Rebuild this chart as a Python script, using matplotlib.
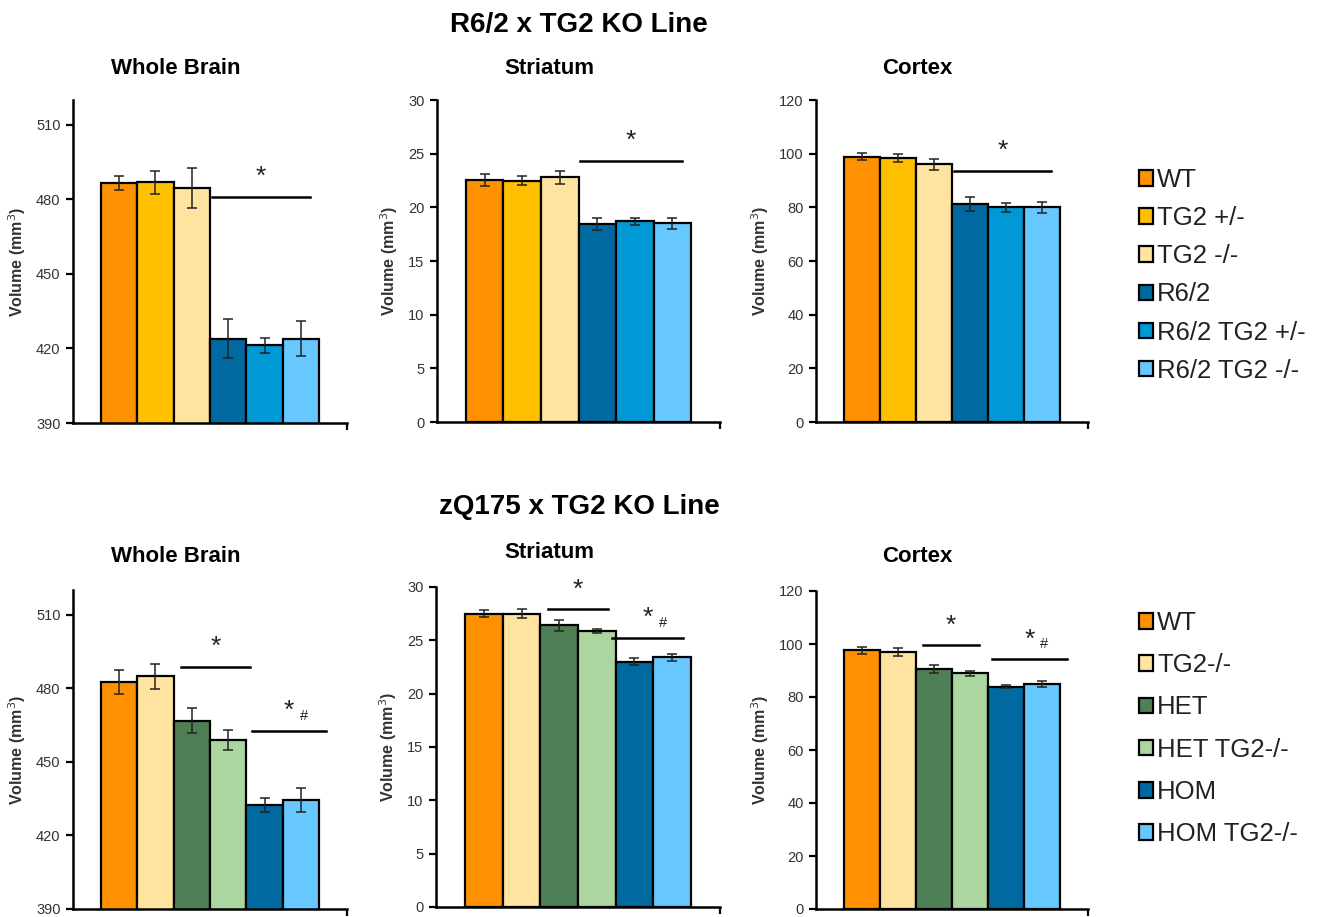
import matplotlib
matplotlib.use('Agg')
import matplotlib.pyplot as plt
from matplotlib.patches import Patch

plt.rcParams['font.family'] = ['Liberation Sans', 'DejaVu Sans']

# --- data -------------------------------------------------------------
r62_groups = ['WT', 'TG2 +/-', 'TG2 -/-', 'R6/2', 'R6/2 TG2 +/-', 'R6/2 TG2 -/-']
r62_colors = ['#FF9100', '#FFC000', '#FFE3A0', '#006AA0', '#0099D6', '#66C8FF']
r62_wb = [486.6, 486.8, 484.6, 424.0, 421.3, 424.0]
r62_wb_err = [3.0, 4.5, 8.0, 8.0, 3.0, 7.0]
r62_str = [22.55, 22.5, 22.8, 18.45, 18.7, 18.5]
r62_str_err = [0.55, 0.45, 0.6, 0.6, 0.35, 0.55]
r62_ctx = [98.9, 98.3, 96.0, 81.2, 80.0, 80.0]
r62_ctx_err = [1.3, 1.5, 2.0, 2.5, 1.8, 2.0]

zq_groups = ['WT', 'TG2-/-', 'HET', 'HET TG2-/-', 'HOM', 'HOM TG2-/-']
zq_colors = ['#FF9100', '#FFE3A0', '#4E7F55', '#ACD6A0', '#006AA0', '#66C8FF']
zq_wb = [482.5, 484.8, 466.8, 458.9, 432.4, 434.4]
zq_wb_err = [5.0, 5.0, 5.0, 4.0, 2.7, 5.0]
zq_str = [27.5, 27.5, 26.4, 25.9, 23.0, 23.4]
zq_str_err = [0.3, 0.4, 0.55, 0.2, 0.3, 0.3]
zq_ctx = [97.6, 97.1, 90.5, 88.9, 83.9, 84.9]
zq_ctx_err = [1.2, 1.5, 1.5, 0.8, 0.5, 1.3]

# significance bars: (y, x0, x1, label, subscript)
r62_sig_wb = [(481, 2.55, 5.25, '*', '')]
r62_sig_str = [(24.3, 2.55, 5.25, '*', '')]
r62_sig_ctx = [(93.6, 2.55, 5.25, '*', '')]
zq_sig_wb = [(488.6, 1.7, 3.6, '*', ''), (462.5, 3.65, 5.7, '*', '#')]
zq_sig_str = [(27.9, 1.7, 3.3, '*', ''), (25.25, 3.4, 5.3, '*', '#')]
zq_sig_ctx = [(99.5, 1.7, 3.25, '*', ''), (94.2, 3.6, 5.7, '*', '#')]

W, H = 1335, 917
fig = plt.figure(figsize=(W / 100, H / 100), dpi=100)


def px_axes(x0, x1, y_top, y_bot):
    return fig.add_axes([x0 / W, 1 - y_bot / H, (x1 - x0) / W, (y_bot - y_top) / H])


def panel(ax, vals, errs, colors, ylim, yticks, sigs):
    x = range(len(vals))
    ax.bar(x, vals, width=1.0, color=colors, edgecolor='black', linewidth=1.6,
           bottom=0, zorder=2)
    ax.errorbar(x, vals, yerr=errs, fmt='none', ecolor='#222222', elinewidth=1.1,
                capsize=3.5, capthick=1.1, zorder=3)
    ax.set_ylim(*ylim)
    ax.set_xlim(-1.27, 6.27)
    ax.set_yticks(yticks)
    ax.set_xticks([6.27])
    ax.set_xticklabels([])
    ax.tick_params(axis='y', direction='out', length=5, width=1.6, labelsize=10.5,
                   labelcolor='#333333', pad=4)
    ax.tick_params(axis='x', direction='out', length=5, width=1.6)
    for s in ['top', 'right']:
        ax.spines[s].set_visible(False)
    for s in ['left', 'bottom']:
        ax.spines[s].set_linewidth(1.8)
    ax.set_ylabel('Volume (mm$^3$)', fontsize=11.5, fontweight='bold', color='#333333',
                  labelpad=6)
    span = ylim[1] - ylim[0]
    for y, a, b, star, sub in sigs:
        ax.plot([a, b], [y, y], color='black', lw=1.8, clip_on=False, zorder=4)
        xm = (a + b) / 2
        ax.text(xm, y + span * 0.025, star, ha='center', va='bottom', fontsize=19,
                color='#222222')
        if sub:
            ax.text(xm + 0.3, y + span * 0.025, sub, ha='left', va='bottom',
                    fontsize=10.5, color='#222222')


top = [px_axes(73, 347, 100, 423), px_axes(437, 720, 100, 422), px_axes(816, 1088, 100, 422)]
bot = [px_axes(73, 347, 590, 909), px_axes(436, 720, 587, 907), px_axes(816, 1088, 591, 909)]

panel(top[0], r62_wb, r62_wb_err, r62_colors, (390, 520), [390, 420, 450, 480, 510], r62_sig_wb)
panel(top[1], r62_str, r62_str_err, r62_colors, (0, 30), range(0, 31, 5), r62_sig_str)
panel(top[2], r62_ctx, r62_ctx_err, r62_colors, (0, 120), range(0, 121, 20), r62_sig_ctx)
panel(bot[0], zq_wb, zq_wb_err, zq_colors, (390, 520), [390, 420, 450, 480, 510], zq_sig_wb)
panel(bot[1], zq_str, zq_str_err, zq_colors, (0, 30), range(0, 31, 5), zq_sig_str)
panel(bot[2], zq_ctx, zq_ctx_err, zq_colors, (0, 120), range(0, 121, 20), zq_sig_ctx)

# titles
fig.text(579 / W, 1 - 25 / H, 'R6/2 x TG2 KO Line', ha='center', va='center',
         fontsize=20, fontweight='bold')
fig.text(579 / W, 1 - 507 / H, 'zQ175 x TG2 KO Line', ha='center', va='center',
         fontsize=20, fontweight='bold')
for xc, y, name in [(176, 68, 'Whole Brain'), (549, 68, 'Striatum'), (917, 68, 'Cortex'),
                    (176, 556, 'Whole Brain'), (549, 553, 'Striatum'), (917, 557, 'Cortex')]:
    fig.text(xc / W, 1 - y / H, name, ha='center', va='center', fontsize=16,
             fontweight='bold')

# legends
for groups, colors, ytop, spacing in [(r62_groups, r62_colors, 168, 0.55),
                                      (zq_groups, zq_colors, 611, 0.71)]:
    handles = [Patch(facecolor=c, edgecolor='black', linewidth=1.6) for c in colors]
    fig.legend(handles, groups, loc='upper left', bbox_to_anchor=(1139 / W, 1 - ytop / H),
               frameon=False, fontsize=18.5, handlelength=0.55, handleheight=0.55,
               handletextpad=0.15, labelspacing=spacing, borderaxespad=0,
               borderpad=0, labelcolor='#222222')

fig.savefig('out.png', dpi=100)
